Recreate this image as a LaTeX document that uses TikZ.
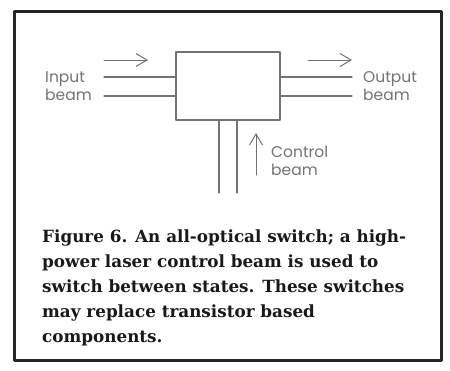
\documentclass[tikz,border=0pt]{standalone}
\usepackage{fontspec}
\newfontfamily\labelfont{Poppins}
\newfontfamily\capfont{DejaVu Serif}
\usetikzlibrary{arrows.meta}

\begin{document}
\begin{tikzpicture}[x=1pt, y=-1pt, line join=round, line cap=round,
	beam/.style={gray!90!black, line width=1.2pt},
	flow/.style={gray!90!black, line width=1pt, -{Straight Barb[length=11pt, width=13pt]}},
	lbl/.style={text=gray!90!black, font=\labelfont\fontsize{15.5}{17.5}\selectfont, align=left, inner sep=0pt, anchor=west}]
	\useasboundingbox (0, 0) rectangle (450, 370);
	\draw[line width=3pt, black!85] (14.5, 11) rectangle (441.5, 360);
	% the switch
	\node[draw=gray!90!black, line width=1.2pt, minimum width=104pt, minimum height=68pt, inner sep=0pt] (sw) at (228, 86) {};
	% input side
	\coordinate (inA) at (104, 77);
	\coordinate (inB) at (104, 96);
	\draw[beam] (inA) -- (inA -| sw.west);
	\draw[beam] (inB) -- (inB -| sw.west);
	\coordinate (inS) at (104, 60);
	\coordinate (inE) at (148, 60);
	\draw[flow] (inS) -- (inE);
	\node[lbl] (inL) at (45, 86) {Input\\beam};
	% output side
	\coordinate (outA) at (352, 77);
	\coordinate (outB) at (352, 96);
	\draw[beam] (outA -| sw.east) -- (outA);
	\draw[beam] (outB -| sw.east) -- (outB);
	\coordinate (outS) at (308, 60);
	\coordinate (outE) at (352, 60);
	\draw[flow] (outS) -- (outE);
	\node[lbl] (outL) at (363, 86) {Output\\beam};
	% control beam
	\coordinate (ctA) at (219, 193);
	\coordinate (ctB) at (237, 193);
	\draw[beam] (ctA) -- (ctA |- sw.south);
	\draw[beam] (ctB) -- (ctB |- sw.south);
	\coordinate (ctS) at (256, 175);
	\coordinate (ctE) at (256, 133);
	\draw[flow] (ctS) -- (ctE);
	\node[lbl] (ctL) at (271, 161) {Control\\beam};
	% caption
	\node[anchor=base west, align=left, inner sep=0pt, text=black!90, font=\capfont\bfseries\fontsize{16.8}{24.8}\selectfont] (cap) at (42, 342)
		{Figure 6. An all-optical switch; a high-\\power laser control beam is used to\\switch between states. These switches\\may replace transistor based\\components.};
\end{tikzpicture}
\end{document}
